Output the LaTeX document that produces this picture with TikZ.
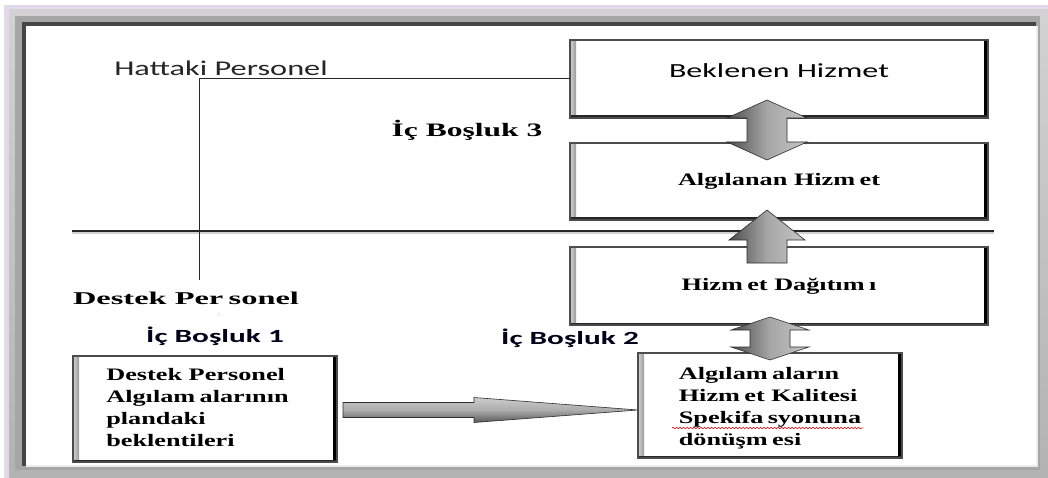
\documentclass[tikz,border=0pt]{standalone}
\usepackage{fontspec}
\usepackage{graphicx}
\setmainfont{Liberation Serif}
\newfontfamily\calibri{Carlito}
\usetikzlibrary{calc,decorations.pathmorphing}

\definecolor{framelav}{RGB}{226,218,232}

% horizontally widened text
\newcommand\sx[2]{\scalebox{#1}[1]{#2}}

% heavy right/bottom edges and a shaded left edge on a box
\newcommand\bevel[1]{%
  \shade[left color=gray!35, right color=gray!80] (#1.north west) rectangle ([xshift=6pt]#1.south west);
  \fill[black] ([xshift=-4pt]#1.north east) rectangle (#1.south east);
  \fill[black!85] ([yshift=2.5pt]#1.south west) rectangle (#1.south east);
  \draw[black!70, line width=1.2pt] (#1.north west) rectangle (#1.south east);
}

% block arrows: #1/#2 end points, #3 head length, #4 head half width, #5 shaft half width
\newcommand\vdouble[5]{%
  \shade[arrowshade] let \p1=#1, \p2=#2 in
    (\x1,\y1) -- (\x1+#4pt,\y1-#3pt) -- (\x1+#5pt,\y1-#3pt) -- (\x1+#5pt,\y2+#3pt)
    -- (\x1+#4pt,\y2+#3pt) -- (\x1,\y2) -- (\x1-#4pt,\y2+#3pt) -- (\x1-#5pt,\y2+#3pt)
    -- (\x1-#5pt,\y1-#3pt) -- (\x1-#4pt,\y1-#3pt) -- cycle;
}
\newcommand\vup[5]{%
  \shade[arrowshade] let \p1=#1, \p2=#2 in
    (\x1,\y1) -- (\x1+#4pt,\y1-#3pt) -- (\x1+#5pt,\y1-#3pt) -- (\x1+#5pt,\y2)
    -- (\x1-#5pt,\y2) -- (\x1-#5pt,\y1-#3pt) -- (\x1-#4pt,\y1-#3pt) -- cycle;
}
\newcommand\hright[5]{%
  \shade[harrowshade] let \p1=#1, \p2=#2 in
    (\x1,\y1+#5pt) -- (\x2-#3pt,\y1+#5pt) -- (\x2-#3pt,\y1+#4pt) -- (\x2,\y1)
    -- (\x2-#3pt,\y1-#4pt) -- (\x2-#3pt,\y1-#5pt) -- (\x1,\y1-#5pt) -- cycle;
}

\begin{document}
\begin{tikzpicture}[x=1pt, y=-1pt,
  box/.style={draw=black!75, line width=1.2pt, fill=white, inner sep=0pt, outer sep=0pt},
  boxserif/.style={font=\bfseries\fontsize{17.5}{22}\selectfont},
  boxsans/.style={font=\calibri\fontsize{20}{24}\selectfont},
  arrowshade/.style={left color=gray!60!black, right color=gray!45, middle color=gray!70, draw=gray!35!black, line width=0.6pt},
  harrowshade/.style={top color=gray!40, bottom color=gray!70!black, middle color=gray!65, draw=gray!35!black, line width=0.6pt},
  gaplabel/.style={font=\calibri\bfseries\fontsize{18.6}{22}\selectfont, text=black!90!blue}
]
\useasboundingbox (0,0) rectangle (1048,478);

% frame around the panel
\fill[white] (0,0) rectangle (1048,478);
\fill[framelav] (4,5) rectangle (1048,478);
\shade[top color=gray!35, bottom color=gray!60] (9,10) rectangle (1048,478);
\fill[gray!70] (15,16) rectangle (1040,470);
\fill[gray!55!black] (22,22) rectangle (1036,466);
\fill[white] (26,26) rectangle (1036,466);
\draw[gray!15, line width=2pt] (26,466) -- (1037,466) -- (1037,26);

% boxes
\node[box, minimum width=418pt, minimum height=78pt, boxsans] (A) at (779,79)
  {\raisebox{8pt}[\height][\depth]{\sx{1.6}{Beklenen Hizmet}}};
\node[box, minimum width=418pt, minimum height=77pt, boxserif] (B) at (779,181.5)
  {\sx{1.5}{Algılanan Hizm\,et}};
\node[box, minimum width=418pt, minimum height=78pt, boxserif] (C) at (779,286)
  {\sx{1.5}{Hizm\,et Dağıtım\,ı}};
\node[box, minimum width=264pt, minimum height=105pt, boxserif] (D) at (770,405.5)
  {\raisebox{-3pt}[\height][\depth]{\sx{1.5}{\begin{tabular}{@{}l@{}}Algılam\,aların\\Hizm\,et Kalitesi\\Spekifa\,syonuna\\dönüşm\,esi\end{tabular}}}};
\node[box, minimum width=264pt, minimum height=106pt, boxserif] (E) at (205,409)
  {\sx{1.5}{\begin{tabular}{@{}l@{}}Destek Personel\\Algılam\,alarının\\plandaki\\beklentileri\end{tabular}}\kern15pt};
\foreach \b in {A,B,C,D,E} {\bevel{\b}}

% spelling underline
\draw[red!85!black, line width=0.6pt, decorate, decoration={snake, amplitude=0.8pt, segment length=3.5pt}]
  (672,428) -- (863,428);

% labels
\node[font=\calibri\fontsize{21}{25}\selectfont, text=black!85] (hat) at (221,68) {\sx{1.54}{Hattaki Personel}};
\node[font=\bfseries\fontsize{19}{23}\selectfont] (ic3) at (467,130) {\sx{1.66}{İç Boşluk 3}};
\node[font=\bfseries\fontsize{18}{22}\selectfont] (dp) at (186,298) {\sx{1.8}{Destek Per\,sonel}};
\node[font=\fontsize{7}{8}\selectfont, text=gray] (colon) at (219,315) {:};
\node[gaplabel] (ic1) at (215,336) {\sx{1.68}{İç Boşluk 1}};
\node[gaplabel] (ic2) at (570,338) {\sx{1.68}{İç Boşluk 2}};

% line-of-visibility and the line-staff bracket
\coordinate (sepL) at (72,231);
\coordinate (sepR) at (994,231);
\coordinate (vend) at (199,280);
\draw[gray!35, line width=2pt] ([yshift=-2pt]sepL) -- ([yshift=-2pt]sepR);
\draw[black!85, line width=1pt] (sepL) -- (sepR);
\draw[black!85, line width=1pt] (A.west) -| (vend);

% block arrows between the boxes
\vdouble{($(A.south)+(-12,-18)$)}{($(B.north)+(-12,17)$)}{18}{40}{20}
\vup{($(B.south)+(-12,-10)$)}{($(C.north)+(-12,16)$)}{30}{38}{20}
\vdouble{($(C.south)+(-9,-8)$)}{($(D.north)+(0,7)$)}{13}{39}{20}
\hright{($(E.east)+(6,1)$)}{(D.west)}{164}{12.5}{7.5}
\end{tikzpicture}
\end{document}
